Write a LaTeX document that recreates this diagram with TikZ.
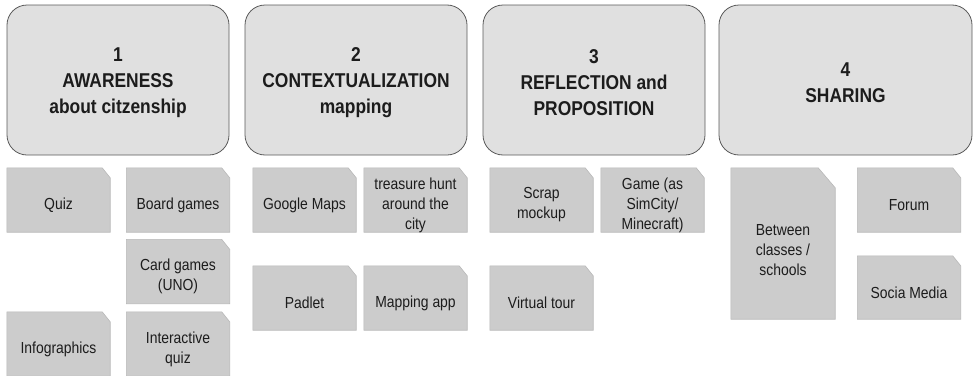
\documentclass[tikz,border=0pt]{standalone}
\usepackage{fontspec}
\setmainfont[FakeStretch=0.87]{Liberation Sans}
\definecolor{phasefill}{HTML}{E0E0E0}
\definecolor{phasedraw}{HTML}{5A5A5A}
\definecolor{notefill}{HTML}{CCCCCC}
\definecolor{notedraw}{HTML}{B8B8B8}
\definecolor{txt}{HTML}{1C1C1C}
\tikzset{
  phase/.style={draw=phasedraw, fill=phasefill, line width=0.8pt, rounded corners=20pt,
    minimum height=150pt, inner sep=0pt},
  phaselbl/.style={align=center, text=txt, inner sep=0pt, yshift=-3pt,
    font=\fontsize{20}{26}\selectfont\bfseries},
  note/.style={rectangle, draw=none, inner sep=0pt, minimum width=103pt, minimum height=64pt},
  notepoly/.style={draw=notedraw, fill=notefill, line width=0.6pt},
  notelbl/.style={align=center, text=txt, inner sep=0pt, yshift=-5pt,
    font=\fontsize{16}{20}\selectfont}
}
\begin{document}
\begin{tikzpicture}[x=1pt,y=-1pt]
\useasboundingbox (0,0) rectangle (974,375);
% phase boxes
\node[phase, minimum width=222pt] (p1) at (118,80) {};
\node[phase, minimum width=222pt] (p2) at (356,80) {};
\node[phase, minimum width=222pt] (p3) at (594,80) {};
\node[phase, minimum width=253pt] (p4) at (845.5,80) {};
\node[phaselbl] (p1t) at (p1.center) {1\\AWARENESS\\about citzenship};
\node[phaselbl] (p2t) at (p2.center) {2\\CONTEXTUALIZATION\\mapping};
\node[phaselbl] (p3t) at (p3.center) {3\\REFLECTION and\\PROPOSITION};
\node[phaselbl] (p4t) at (p4.center) {4\\SHARING};
% note frames
\node[note] (quiz) at (58.5,200) {};
\node[note] (board) at (178,200) {};
\node[note] (card) at (178,271.5) {};
\node[note] (info) at (58.5,344) {};
\node[note] (iquiz) at (178,344) {};
\node[note] (gmaps) at (304.5,200) {};
\node[note] (hunt) at (415.5,200) {};
\node[note] (padlet) at (304.5,298) {};
\node[note] (mapapp) at (415.5,298) {};
\node[note] (scrap) at (541.5,200) {};
\node[note] (game) at (652.5,200) {};
\node[note] (vtour) at (541.5,298) {};
\node[note, minimum width=104pt, minimum height=151pt] (between) at (783,243.5) {};
\node[note] (forum) at (909,200) {};
\node[note, minimum height=63pt] (social) at (909,287.5) {};
% dog-eared note shapes
\foreach \n in {quiz,board,card,info,iquiz,gmaps,hunt,padlet,mapapp,scrap,game,vtour,forum,social}
  \draw[notepoly] (\n.south west) -- (\n.south east) -- ([yshift=-10pt]\n.north east)
    -- ([xshift=-8pt]\n.north east) -- (\n.north west) -- cycle;
\draw[notepoly] (between.south west) -- (between.south east) -- ([yshift=-20pt]between.north east)
    -- ([xshift=-17pt]between.north east) -- (between.north west) -- cycle;
% note labels
\node[notelbl] (quizt) at (quiz.center) {Quiz};
\node[notelbl] (boardt) at (board.center) {Board games};
\node[notelbl] (cardt) at (card.center) {Card games\\(UNO)};
\node[notelbl] (infot) at (info.center) {Infographics};
\node[notelbl] (iquizt) at (iquiz.center) {Interactive\\quiz};
\node[notelbl] (gmapst) at (gmaps.center) {Google Maps};
\node[notelbl] (huntt) at (hunt.center) {treasure hunt\\around the\\city};
\node[notelbl] (padlett) at (padlet.center) {Padlet};
\node[notelbl] (mapappt) at (mapapp.center) {Mapping app};
\node[notelbl] (scrapt) at (scrap.center) {Scrap\\mockup};
\node[notelbl] (gamet) at (game.center) {Game (as\\SimCity/\\Minecraft)};
\node[notelbl] (vtourt) at (vtour.center) {Virtual tour};
\node[notelbl, yshift=-2pt] (betweent) at (between.center) {Between\\classes /\\schools};
\node[notelbl] (forumt) at (forum.center) {Forum};
\node[notelbl] (socialt) at (social.center) {Socia Media};
\end{tikzpicture}
\end{document}
